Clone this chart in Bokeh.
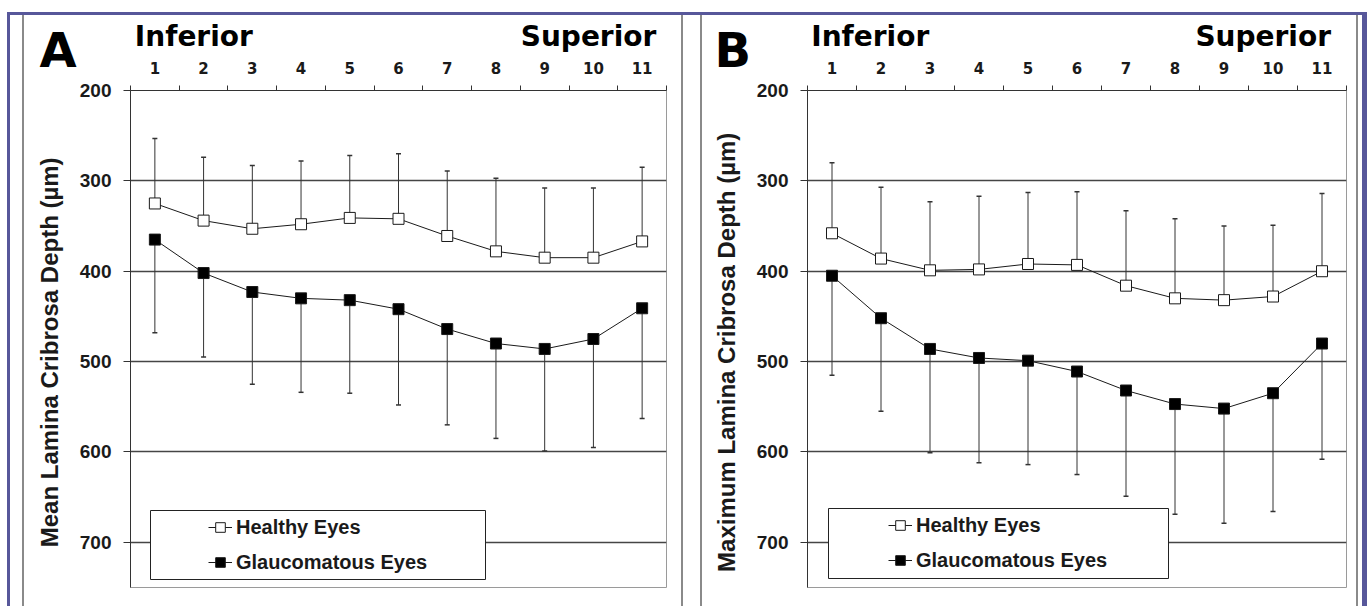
from bokeh.plotting import figure
from bokeh.models import (Range1d, FixedTicker, Legend, LegendItem, Title,
                          BoxAnnotation, ColumnDataSource, LinearAxis)
from bokeh.layouts import row
from bokeh.embed import file_html
from bokeh.resources import INLINE

# ---------------- data ----------------
segments = [1, 2, 3, 4, 5, 6, 7, 8, 9, 10, 11]
segment_labels = ["1", "2", "3", "4", "5", "6", "7", "8", "9", "10", "11"]
depth_ticks = [200, 300, 400, 500, 600, 700]
region_labels = ["Inferior", "Superior"]

# Panel A: mean lamina cribrosa depth (um)
a_healthy_mean = [325, 344, 353, 348, 341, 342, 361, 378, 385, 385, 367]
a_healthy_sd = [72, 70, 70, 70, 69, 72, 72, 81, 77, 77, 82]
a_glauc_mean = [365, 402, 423, 430, 432, 442, 464, 480, 486, 475, 441]
a_glauc_sd = [103, 93, 102, 104, 103, 106, 106, 105, 113, 120, 122]

# Panel B: maximum lamina cribrosa depth (um)
b_healthy_mean = [358, 386, 399, 398, 392, 393, 416, 430, 432, 428, 400]
b_healthy_sd = [78, 79, 76, 81, 79, 81, 83, 88, 82, 79, 86]
b_glauc_mean = [405, 452, 486, 496, 499, 511, 532, 547, 552, 535, 480]
b_glauc_sd = [110, 103, 115, 116, 115, 114, 117, 122, 127, 131, 128]

PURPLE = "#57579a"
PANEL_GRAY = "#8a8a8a"
INK = "#1a1a1a"
HEIGHT = 606


def make_panel(letter, ylabel, h_mean, h_sd, g_mean, g_sd, cfg):
    W, H = cfg["width"], HEIGHT
    p = figure(width=W, height=H,
               x_range=Range1d(0.5, 11.5), y_range=Range1d(750, 200),
               x_axis_location="above", output_backend="svg",
               toolbar_location=None,
               min_border_left=cfg["bl"], min_border_right=cfg["br"],
               min_border_top=90, min_border_bottom=19)
    p.title.visible = False
    p.background_fill_color = "white"
    p.border_fill_color = None
    p.outline_line_color = "#9a9a9a"
    p.outline_line_width = 1
    p.xgrid.visible = False
    p.ygrid.ticker = FixedTicker(ticks=depth_ticks)
    p.ygrid.grid_line_color = "#454545"
    p.ygrid.grid_line_width = 1.3

    xa = p.xaxis[0]
    xa.ticker = FixedTicker(ticks=segments,
                            minor_ticks=[s - 0.5 for s in segments] + [segments[-1] + 0.5])
    xa.major_label_overrides = {s: t for s, t in zip(segments, segment_labels)}
    xa.major_tick_out = 0
    xa.major_tick_in = 0
    xa.minor_tick_out = 5
    xa.minor_tick_in = 0
    xa.minor_tick_line_color = "#333333"
    xa.axis_line_color = "#333333"
    xa.major_label_standoff = 12
    xa.major_label_text_font = "DejaVu Sans"
    xa.major_label_text_font_style = "bold"
    xa.major_label_text_font_size = "15px"
    xa.major_label_text_color = INK

    ya = p.yaxis[0]
    ya.ticker = FixedTicker(ticks=depth_ticks)
    ya.major_tick_out = 7
    ya.major_tick_in = 0
    ya.minor_tick_out = 0
    ya.minor_tick_in = 0
    ya.major_tick_line_color = "#333333"
    ya.axis_line_color = "#333333"
    ya.major_label_standoff = 12
    ya.major_label_text_font = "Liberation Sans"
    ya.major_label_text_font_style = "bold"
    ya.major_label_text_font_size = "19px"
    ya.major_label_text_color = INK
    ya.axis_label = ylabel
    ya.axis_label_standoff = 14
    ya.axis_label_text_font = "Liberation Sans"
    ya.axis_label_text_font_style = "bold"
    ya.axis_label_text_font_size = "24px"
    ya.axis_label_text_color = INK

    # error bars (healthy: towards shallower, glaucoma: towards deeper)
    h_end = [m - s for m, s in zip(h_mean, h_sd)]
    g_end = [m + s for m, s in zip(g_mean, g_sd)]
    src = ColumnDataSource(dict(x=segments, hm=h_mean, he=h_end, gm=g_mean, ge=g_end))
    p.segment(x0="x", y0="hm", x1="x", y1="he", source=src, line_color="#333333", line_width=1)
    p.segment(x0="x", y0="gm", x1="x", y1="ge", source=src, line_color="#333333", line_width=1)
    p.scatter(x="x", y="he", source=src, marker="dash", size=5, line_color="#333333", line_width=1.5)
    p.scatter(x="x", y="ge", source=src, marker="dash", size=5, line_color="#333333", line_width=1.5)

    lh = p.line(x="x", y="hm", source=src, line_color=INK, line_width=1)
    sh = p.scatter(x="x", y="hm", source=src, marker="square", size=11,
                   fill_color="white", line_color=INK, line_width=1)
    lg = p.line(x="x", y="gm", source=src, line_color=INK, line_width=1)
    sg = p.scatter(x="x", y="gm", source=src, marker="square", size=11,
                   fill_color="black", line_color=INK, line_width=1)

    # legend box + legend
    lb = cfg["legend_box"]
    p.add_layout(BoxAnnotation(left=lb[0], right=lb[1], top=lb[2], bottom=lb[3],
                               left_units="canvas", right_units="canvas",
                               top_units="canvas", bottom_units="canvas",
                               fill_color="white", fill_alpha=1.0,
                               line_color="#222222", line_width=1, line_alpha=1.0))
    legend = Legend(items=[LegendItem(label="Healthy Eyes", renderers=[lh, sh]),
                           LegendItem(label="Glaucomatous Eyes", renderers=[lg, sg])],
                    location=cfg["legend_loc"], padding=0, spacing=11,
                    glyph_width=24, glyph_height=24, label_height=24,
                    label_standoff=4, border_line_color=None,
                    background_fill_alpha=0,
                    label_text_font="Liberation Sans",
                    label_text_font_style="bold",
                    label_text_font_size="20px",
                    label_text_color=INK)
    p.add_layout(legend)

    # panel letter (title with a collapsed footprint, centred on its slot)
    p.add_layout(Title(text=letter, align="left", offset=cfg["letter_dx"],
                       standoff=-40, vertical_align="middle",
                       text_font="DejaVu Sans", text_font_style="bold",
                       text_font_size="48px", text_color="black"), "above")

    # region names as an outer axis above the segment numbers
    ra = LinearAxis(ticker=FixedTicker(ticks=cfg["region_ticks"]),
                    major_label_overrides={t: s for t, s in zip(cfg["region_ticks"], region_labels)},
                    axis_line_color=None, major_tick_line_color=None,
                    minor_tick_line_color=None, major_tick_out=0, major_tick_in=0,
                    minor_tick_out=0, minor_tick_in=0, major_label_standoff=-12,
                    major_label_text_font="DejaVu Sans",
                    major_label_text_font_style="bold",
                    major_label_text_font_size="28px",
                    major_label_text_color="black")
    p.add_layout(ra, "above")
    return p


cfg_a = dict(width=691, bl=130, br=25, legend_box=(150, 485, 510, 579),
             legend_loc=(78, 13), letter_dx=-91, region_ticks=[1.8, 9.9])
cfg_b = dict(width=679, bl=116, br=24, legend_box=(137, 477, 508, 578),
             legend_loc=(81, 15), letter_dx=-93, region_ticks=[1.78, 9.8])

pa = make_panel("A", "Mean  Lamina  Cribrosa  Depth  (µm)",
                a_healthy_mean, a_healthy_sd, a_glauc_mean, a_glauc_sd, cfg_a)
pb = make_panel("B", "Maximum  Lamina  Cribrosa  Depth  (µm)",
                b_healthy_mean, b_healthy_sd, b_glauc_mean, b_glauc_sd, cfg_b)

# outer purple frame and grey panel rules, painted behind the transparent canvases
bars = [  # (x, y, w, h, colour)
    (7, 12, 1360, 3, PURPLE), (7, 12, 3, 594, PURPLE), (1362, 12, 5, 594, PURPLE),
    (22, 15, 2, 591, PANEL_GRAY), (681, 15, 2, 591, PANEL_GRAY),
    (700, 15, 2, 591, PANEL_GRAY), (1356, 15, 2, 591, PANEL_GRAY),
]
styles = {
    "background-color": "white",
    "background-image": ", ".join(f"linear-gradient({c}, {c})" for *_, c in bars),
    "background-position": ", ".join(f"{x}px {y}px" for x, y, *_ in bars),
    "background-size": ", ".join(f"{w}px {h}px" for _, _, w, h, _ in bars),
    "background-repeat": "no-repeat",
}

layout = row(pa, pb, spacing=0, styles=styles)
open("out.html", "w").write(file_html(layout, INLINE))
